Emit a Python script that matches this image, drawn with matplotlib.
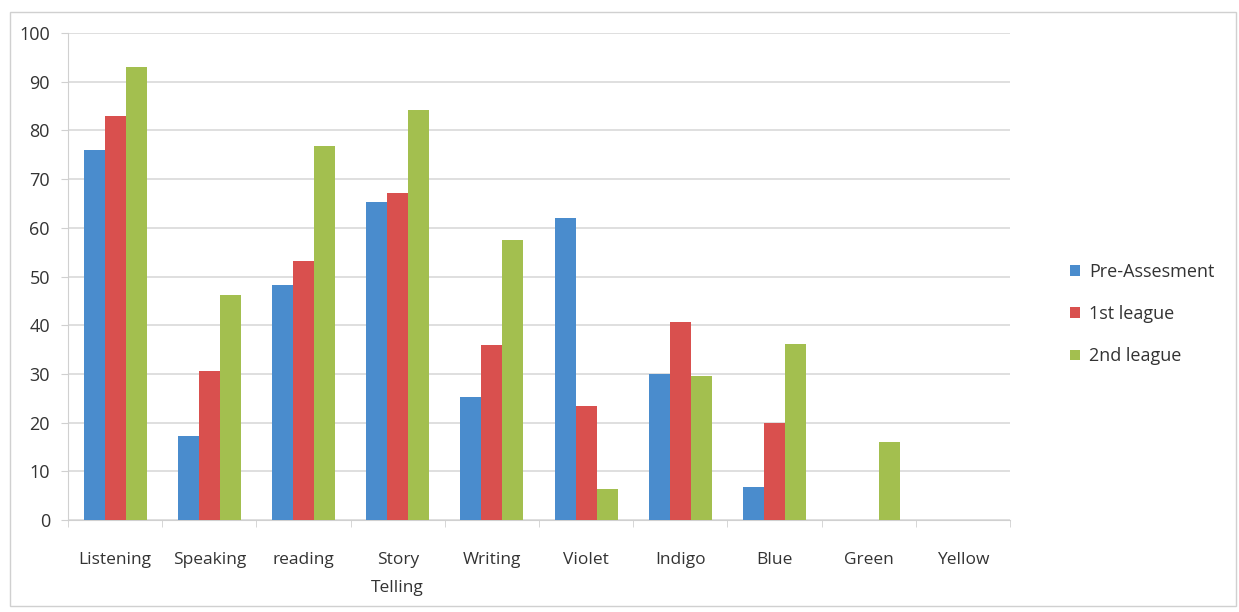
"""Grouped bar chart of assessment scores per skill."""

import numpy as np
import matplotlib
matplotlib.use('Agg')
import matplotlib.pyplot as plt
from matplotlib.patches import Rectangle

plt.rcParams['font.family'] = ['Open Sans', 'DejaVu Sans']

# categories and scores for each round
categories = ['Listening', 'Speaking', 'reading', 'Story\nTelling', 'Writing',
              'Violet', 'Indigo', 'Blue', 'Green', 'Yellow']
pre_assesment = [76, 17.3, 48.3, 65.4, 25.3, 62.1, 30, 6.8, 0, 0]
first_league = [83, 30.5, 53.1, 67.1, 36, 23.4, 40.7, 20, 0, 0]
second_league = [93, 46.2, 76.7, 84.2, 57.4, 6.3, 29.6, 36.2, 16.1, 0]

series = [('Pre-Assesment', pre_assesment, '#4a8ccd'),
          ('1st league', first_league, '#d9504e'),
          ('2nd league', second_league, '#a3bf4f')]

text_color = '#333333'

fig = plt.figure(figsize=(12.39, 6.12), dpi=100)
ax = fig.add_axes([68 / 1239, 1 - 520 / 612, (1010 - 68) / 1239, (520 - 33) / 612])

# light frame round the whole chart
fig.patches.append(Rectangle((10 / 1239, 6 / 612), 1226 / 1239, 594 / 612,
                             transform=fig.transFigure, fill=False,
                             edgecolor='#d0d0d0', linewidth=1))

x = np.arange(len(categories))
width = 0.223
for i, (label, values, color) in enumerate(series):
    ax.bar(x + (i - 1) * width, values, width, color=color, label=label, zorder=3)

ax.set_xlim(-0.5, len(categories) - 0.5)
ax.set_ylim(0, 100)
ax.set_yticks(range(0, 101, 10))
ax.yaxis.grid(True, color='#d9d9d9', linewidth=1.2, zorder=0)

ax.set_xticks(x)
ax.set_xticklabels(categories, fontsize=12.5, color=text_color, linespacing=2.0)
ax.set_xticks(np.arange(len(categories) + 1) - 0.5, minor=True)
ax.tick_params(axis='x', which='major', length=0, pad=23)
ax.tick_params(axis='x', which='minor', length=5, color='#d0d0d0')
ax.tick_params(axis='y', length=5, color='#d0d0d0', labelsize=13,
               labelcolor=text_color, pad=8)

for side in ['top', 'right']:
    ax.spines[side].set_visible(False)
for side in ['left', 'bottom']:
    ax.spines[side].set_color('#d0d0d0')

leg = fig.legend(loc='center left', bbox_to_anchor=(1054 / 1239, 1 - 314 / 612),
                 frameon=False, fontsize=13, handlelength=0.55, handleheight=0.55,
                 handletextpad=0.5, labelspacing=1.35)
for text in leg.get_texts():
    text.set_color(text_color)

fig.savefig('out.png', dpi=100)
